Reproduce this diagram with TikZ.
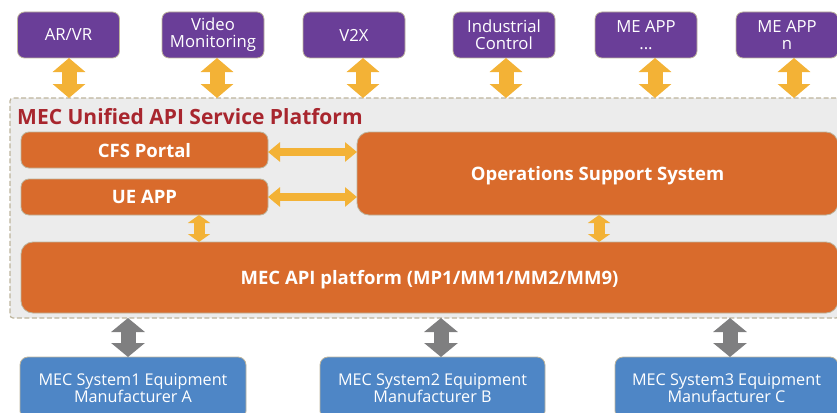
\documentclass[tikz,border=0pt]{standalone}
\usepackage{fontspec}
\setmainfont{Open Sans}
\usetikzlibrary{arrows.meta}
\definecolor{appPurple}{HTML}{6A3E98}
\definecolor{boxOrange}{HTML}{D96B2C}
\definecolor{arrowGold}{HTML}{F3B236}
\definecolor{arrowGray}{HTML}{7F7F80}
\definecolor{sysBlue}{HTML}{4E86C6}
\definecolor{platGray}{HTML}{ECECEC}
\definecolor{edgeTan}{HTML}{BDB49C}
\definecolor{titleRed}{HTML}{A8262E}
\begin{document}
\begin{tikzpicture}[x=1pt,y=-1pt,
  appbox/.style={draw=edgeTan, line width=0.8pt, fill=appPurple, rounded corners=7pt,
    text=white, minimum width=102pt, minimum height=46pt, inner sep=0pt, outer sep=0pt,
    align=center, font=\fontsize{16.7}{17}\selectfont},
  orangebox/.style={draw=edgeTan, line width=0.8pt, fill=boxOrange, rounded corners=8pt,
    text=white, inner sep=0pt, outer sep=0pt, align=center, text depth=0pt,
    font=\bfseries\fontsize{18.5}{20}\selectfont},
  sysbox/.style={draw=edgeTan, line width=0.8pt, fill=sysBlue, rounded corners=8pt,
    text=white, minimum width=225pt, minimum height=62pt, inner sep=0pt, outer sep=0pt,
    align=center, font=\fontsize{16.2}{17}\selectfont},
  platbox/.style={draw=edgeTan, line width=1.2pt, dash pattern=on 5pt off 2.5pt,
    fill=platGray, rounded corners=3pt, inner sep=0pt, outer sep=0pt},
  goldV/.style={draw=arrowGold, line width=15pt,
    {Triangle[width=32pt,length=14pt]}-{Triangle[width=32pt,length=14pt]}},
  goldH/.style={draw=arrowGold, line width=8pt,
    {Triangle[width=19pt,length=12pt]}-{Triangle[width=19pt,length=12pt]}},
  goldS/.style={draw=arrowGold, line width=11pt,
    {Triangle[width=22pt,length=8pt]}-{Triangle[width=22pt,length=8pt]}},
  grayV/.style={draw=arrowGray, line width=15pt,
    {Triangle[width=33pt,length=14pt]}-{Triangle[width=33pt,length=14pt]}},
]
\useasboundingbox (0,0) rectangle (837,412);

% platform background
\node[platbox, minimum width=829pt, minimum height=220pt] (plat) at (424.5,208) {};
\node[anchor=base west, text=titleRed, inner sep=0pt,
  font=\bfseries\fontsize{21}{23}\selectfont] (title) at (17,124) {MEC Unified API Service Platform};

% top applications
\node[appbox] (arvr)  at (68.5,35) {AR/VR};
\node[appbox] (video) at (213,35)  {Video\\Monitoring};
\node[appbox] (v2x)   at (354,35)  {V2X};
\node[appbox] (ind)   at (504,35)  {Industrial\\Control};
\node[appbox] (meapp) at (646,35)  {ME APP\\...};
\node[appbox] (men)   at (787,35)  {ME APP\\n};

% inner boxes
\node[orangebox, minimum width=247pt, minimum height=36pt] (cfs) at (144.5,150) {CFS Portal};
\node[orangebox, minimum width=247pt, minimum height=36pt] (ue)  at (144.5,197) {UE APP};
\node[orangebox, minimum width=481pt, minimum height=83pt, rounded corners=12pt] (oss) at (597.5,173.5) {Operations Support System};
\node[orangebox, minimum width=817pt, minimum height=71pt, rounded corners=12pt] (api) at (429.5,277.5) {MEC API platform (MP1/MM1/MM2/MM9)};

% bottom systems
\node[sysbox, minimum width=226pt] (sysA) at (133,388)   {MEC System1 Equipment\\Manufacturer A};
\node[sysbox] (sysB) at (432.5,388) {MEC System2 Equipment\\Manufacturer B};
\node[sysbox, minimum width=223pt] (sysC) at (726.5,388) {MEC System3 Equipment\\Manufacturer C};

% arrow positions
\coordinate (a1) at (69,0);
\coordinate (a2) at (217,0);
\coordinate (a3) at (363,0);
\coordinate (a4) at (506,0);
\coordinate (a5) at (655,0);
\coordinate (a6) at (794,0);
\coordinate (s1) at (199,0);
\coordinate (s2) at (599,0);
\coordinate (g1) at (128,0);
\coordinate (g2) at (441,0);
\coordinate (g3) at (730,0);

\draw[goldV] (arvr.south -| a1)  -- (plat.north -| a1);
\draw[goldV] (video.south -| a2) -- (plat.north -| a2);
\draw[goldV] (v2x.south -| a3)   -- (plat.north -| a3);
\draw[goldV] (ind.south -| a4)   -- (plat.north -| a4);
\draw[goldV] (meapp.south -| a5) -- (plat.north -| a5);
\draw[goldV] (men.south -| a6)   -- (plat.north -| a6);

\draw[goldH] ([yshift=-2pt]cfs.east) -- ([yshift=-2pt]cfs.east -| oss.west);
\draw[goldH] (ue.east) -- (ue.east -| oss.west);

\draw[goldS] (ue.south -| s1)  -- (api.north -| s1);
\draw[goldS] (oss.south -| s2) -- (api.north -| s2);

\draw[grayV] (plat.south -| g1) -- (sysA.north -| g1);
\draw[grayV] (plat.south -| g2) -- (sysB.north -| g2);
\draw[grayV] (plat.south -| g3) -- (sysC.north -| g3);
\end{tikzpicture}
\end{document}
